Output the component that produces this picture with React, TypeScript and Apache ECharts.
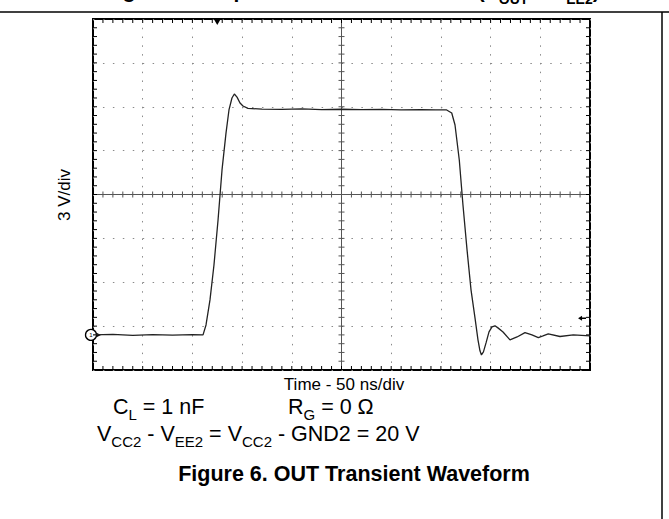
import React, { useEffect, useRef } from "react";
import * as echarts from "echarts";

// ---- Data ----
// time in ns (50 ns/div, 10 divisions), OUT voltage in V (3 V/div)
const TIME_NS = [
  0, 20, 40, 60, 80, 100, 110.7, 113.7, 117.7, 121.7, 125.8, 129.8, 133.8,
  136.8, 139.8, 142.2, 144.9, 147.9, 150.9, 155.9, 170, 190, 210, 230, 250,
  270, 290, 310, 330, 345, 355.8, 360.9, 364.2, 368.5, 372.2, 376.3, 380.3,
  384.3, 387.3, 389.3, 390.8, 392.8, 395.4, 398.4, 401.4, 404.4, 407.4,
  412.5, 419.5, 426.6, 434.6, 441.6, 448.0, 452.7, 458.0, 469.8, 483.2, 500,
];
const OUT_VOLTS = [
  0.0, 0.03, -0.03, 0.02, -0.02, 0.02, 0.0, 0.68, 2.39, 4.78, 7.86, 11.28,
  13.8, 15.38, 16.2, 16.47, 16.26, 15.86, 15.65, 15.49, 15.44, 15.42, 15.45,
  15.4, 15.43, 15.4, 15.42, 15.39, 15.41, 15.38, 15.38, 15.17, 14.35, 11.96,
  8.88, 5.81, 3.08, 1.16, -0.34, -1.09, -1.37, -1.16, -0.55, 0.21, 0.55, 0.62,
  0.48, 0.2, -0.34, -0.14, 0.16, 0.0, -0.18, -0.07, 0.07, -0.11, 0.0, -0.07,
];

const NS_PER_DIV = 50;
const X_DIVS = 10;
const VOLTS_PER_DIV = 3;
const Y_DIVS = 8;
const GROUND_DIV = 0.8; // ground reference marker, divisions above the bottom
const TRIGGER_NS = 125;
const REF_ARROW = [492, 1.18];

const FONT = "Arial, 'Liberation Sans', Helvetica, sans-serif";

export default function App() {
  const ref = useRef<HTMLDivElement>(null);

  useEffect(() => {
    const chart = echarts.init(ref.current!, null, { renderer: "svg" });
    const toDiv = (v: number) => v / VOLTS_PER_DIV + GROUND_DIV;
    const trace = TIME_NS.map((t, i) => [t, toDiv(OUT_VOLTS[i])]);
    const xMax = NS_PER_DIV * X_DIVS;

    const renderFrame = (_params: any, api: any) => {
      const children: any[] = [];
      const p = (x: number, y: number) => api.coord([x, y]);
      const tl = p(0, Y_DIVS);
      const br = p(xMax, 0);
      const c = p(xMax / 2, Y_DIVS / 2);
      const stroke = { stroke: "#555", lineWidth: 1 };
      const tickStyle = { stroke: "#000", lineWidth: 1 };
      children.push({ type: "line", shape: { x1: c[0], y1: tl[1], x2: c[0], y2: br[1] }, style: stroke });
      children.push({ type: "line", shape: { x1: tl[0], y1: c[1], x2: br[0], y2: c[1] }, style: stroke });
      const nx = X_DIVS * 5;
      for (let i = 1; i < nx; i++) {
        const x = p((i * xMax) / nx, 0)[0];
        children.push({ type: "line", shape: { x1: x, y1: br[1], x2: x, y2: br[1] - 4 }, style: tickStyle });
        children.push({ type: "line", shape: { x1: x, y1: tl[1], x2: x, y2: tl[1] + 4 }, style: tickStyle });
        children.push({ type: "line", shape: { x1: x, y1: c[1] - 3, x2: x, y2: c[1] + 3 }, style: stroke });
      }
      const ny = Y_DIVS * 5;
      for (let i = 1; i < ny; i++) {
        const y = p(0, (i * Y_DIVS) / ny)[1];
        children.push({ type: "line", shape: { x1: tl[0], y1: y, x2: tl[0] + 4, y2: y }, style: tickStyle });
        children.push({ type: "line", shape: { x1: br[0], y1: y, x2: br[0] - 4, y2: y }, style: tickStyle });
        children.push({ type: "line", shape: { x1: c[0] - 3, y1: y, x2: c[0] + 3, y2: y }, style: stroke });
      }
      return { type: "group", children };
    };

    const mainTok = { fontSize: 21.5, fontFamily: FONT, lineHeight: 26, color: "#000" };
    const subTok = { fontSize: 15, fontFamily: FONT, lineHeight: 12, padding: [14, 0, 0, 0], color: "#000" };
    const boldTok = { fontSize: 21, fontFamily: FONT, fontWeight: "bold", lineHeight: 24, color: "#000" };
    const boldSub = { fontSize: 14, fontFamily: FONT, fontWeight: "bold", lineHeight: 16, padding: [17, 0, 0, 0], color: "#000" };

    const option: any = {
      animation: false,
      backgroundColor: "#fff",
      grid: {
        left: 93, top: 19, width: 497, height: 351,
        show: true, borderColor: "#000", borderWidth: 2, backgroundColor: "transparent",
      },
      xAxis: {
        type: "value", min: 0, max: xMax, interval: NS_PER_DIV,
        axisLine: { show: false }, axisTick: { show: false }, axisLabel: { show: false },
        splitLine: { show: true, lineStyle: { color: "#8a8a8a", width: 1, type: [1.5, 7.28] } },
      },
      yAxis: {
        type: "value", min: 0, max: Y_DIVS, interval: 1,
        axisLine: { show: false }, axisTick: { show: false }, axisLabel: { show: false },
        splitLine: { show: true, lineStyle: { color: "#8a8a8a", width: 1, type: [1.5, 8.44] } },
      },
      series: [
        {
          type: "custom", renderItem: renderFrame, data: [[0, 0]], silent: true, z: 3,
        },
        {
          type: "line", data: trace, showSymbol: false, z: 5, silent: true,
          lineStyle: { color: "#222", width: 1.3 },
          markPoint: {
            silent: true,
            label: { show: false },
            data: [
              {
                coord: [0, GROUND_DIV], symbol: "circle", symbolSize: 11, symbolOffset: [-2, 0],
                itemStyle: { color: "#fff", borderColor: "#000", borderWidth: 1.3 },
                label: { show: true, formatter: "1", fontSize: 6, color: "#000", position: "inside" },
              },
              {
                coord: [0, GROUND_DIV], symbol: "triangle", symbolRotate: -90, symbolSize: [4, 4],
                symbolOffset: [6, 0], itemStyle: { color: "#000" },
              },
              {
                coord: [TRIGGER_NS, Y_DIVS], symbol: "triangle", symbolRotate: 180, symbolSize: [7, 6],
                symbolOffset: [0, 3], itemStyle: { color: "#000" },
              },
              {
                coord: REF_ARROW, symbol: "path://M0,3 L5,0 L5,2 L10,2 L10,4 L5,4 L5,6 Z",
                symbolSize: [8, 5], itemStyle: { color: "#000" },
              },
            ],
          },
        },
      ],
      graphic: [
        { type: "line", shape: { x1: 0, y1: 12, x2: 669, y2: 12 }, style: { stroke: "#000", lineWidth: 1.5 } },
        { type: "line", shape: { x1: 662, y1: 12, x2: 662, y2: 519 }, style: { stroke: "#000", lineWidth: 1.5 } },
        {
          type: "text", x: 104, y: -22,
          style: {
            text: "{b|Figure 5. Output Transient Waveform (V}{s|OUT}{b| = V}{s|EE2}{b|)}",
            rich: { b: boldTok, s: boldSub },
            textAlign: "left", textVerticalAlign: "top",
          },
        },
        {
          type: "text", x: 344, y: 384,
          style: {
            text: "Time - 50 ns/div", font: `17px ${FONT}`, fill: "#000",
            textAlign: "center", textVerticalAlign: "middle",
          },
        },
        {
          type: "text", x: 64, y: 195, rotation: Math.PI / 2,
          style: {
            text: "3 V/div", font: `17px ${FONT}`, fill: "#000",
            textAlign: "center", textVerticalAlign: "middle",
          },
        },
        {
          type: "text", x: 113, y: 407,
          style: {
            text: "{m|C}{s|L}{m| = 1 nF}", rich: { m: mainTok, s: subTok },
            textAlign: "left", textVerticalAlign: "middle",
          },
        },
        {
          type: "text", x: 288, y: 407,
          style: {
            text: "{m|R}{s|G}{m| = 0 Ω}", rich: { m: mainTok, s: subTok },
            textAlign: "left", textVerticalAlign: "middle",
          },
        },
        {
          type: "text", x: 97, y: 434,
          style: {
            text: "{m|V}{s|CC2}{m| - V}{s|EE2}{m| = V}{s|CC2}{m| - GND2 = 20 V}",
            rich: { m: mainTok, s: subTok },
            textAlign: "left", textVerticalAlign: "middle",
          },
        },
        {
          type: "text", x: 354, y: 474,
          style: {
            text: "Figure 6. OUT Transient Waveform", font: `bold 21.5px ${FONT}`, fill: "#000",
            textAlign: "center", textVerticalAlign: "middle",
          },
        },
      ],
    };

    chart.setOption(option);
    return () => chart.dispose();
  }, []);

  return (
    <div
      ref={ref}
      style={{ position: "fixed", left: 0, top: 0, width: 669, height: 519, background: "#fff" }}
    />
  );
}
